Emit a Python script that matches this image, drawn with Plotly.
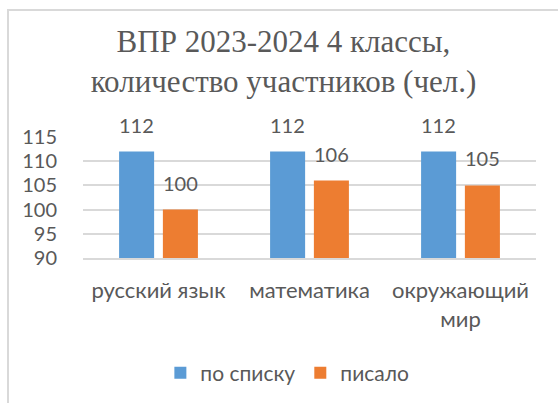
import plotly.graph_objects as go

categories = ["русский язык", "математика", "окружающий<br>мир"]
series_names = ["по списку", "писало"]
po_spisku = [112, 112, 112]
pisalo = [100, 106, 105]
y_ticks = [90, 95, 100, 105, 110, 115]

colors = ["#5B9BD5", "#ED7D31"]
text_color = "#595959"
grid_color = "#D9D9D9"
sans = "Lato, Calibri, Carlito, sans-serif"

W, H = 558, 403
ml, mr, mt, mb = 83, 22, 137, 145
bargap = 0.42

fig = go.Figure()
for name, vals, c in zip(series_names, [po_spisku, pisalo], colors):
    fig.add_trace(go.Bar(x=categories, y=vals, name=name, marker_color=c,
                         marker_line_width=0))

# data labels above bars
offset = (1 - bargap) / 4
ann = []
for k, vals in enumerate([po_spisku, pisalo]):
    for i, v in enumerate(vals):
        ann.append(dict(x=i + (offset if k else -offset), y=v, xref="x", yref="y",
                        text=str(v), showarrow=False, yshift=27, yanchor="middle",
                        font=dict(family=sans, size=20, color=text_color)))

pw = W - ml - mr
ph = H - mt - mb
shapes = [dict(type="rect", xref="paper", yref="paper",
               x0=(8 - ml) / pw, x1=(W + 10 - ml) / pw,
               y0=(H - mb - (H + 10)) / ph, y1=(H - mb - 10) / ph,
               line=dict(color="#D9D9D9", width=2), fillcolor="rgba(0,0,0,0)", layer="below")]

fig.update_layout(
    width=W, height=H,
    margin=dict(l=ml, r=mr, t=mt, b=mb, pad=0),
    paper_bgcolor="white", plot_bgcolor="white",
    barmode="group", bargap=bargap, bargroupgap=0.2,
    title=dict(text="ВПР 2023-2024 4 классы,<br>количество участников (чел.)",
               x=0.508, xref="container", xanchor="center",
               y=1 - 52 / H, yref="container", yanchor="middle",
               font=dict(family="Liberation Serif, Times New Roman, serif", size=31, color=text_color)),
    xaxis=dict(showgrid=False, showline=True, linecolor=grid_color, linewidth=2,
               ticks="outside", ticklen=12, tickcolor="rgba(0,0,0,0)",
               tickfont=dict(family=sans, size=22, color=text_color)),
    yaxis=dict(range=[90, 115], tickvals=y_ticks, showgrid=True, gridcolor=grid_color,
               gridwidth=2, zeroline=False, showline=False,
               ticks="outside", ticklen=21, tickcolor="rgba(0,0,0,0)",
               tickfont=dict(family=sans, size=20, color=text_color)),
    legend=dict(orientation="h", xref="container", yref="container",
                x=0.515, xanchor="center", y=1 - 373 / H, yanchor="middle",
                font=dict(family=sans, size=21, color=text_color),
                itemwidth=30, tracegroupgap=0),
    annotations=ann,
    shapes=shapes,
    showlegend=True,
)
fig.write_html("out.html", config={"displayModeBar": False},
               post_script="document.body.style.margin='0';document.body.style.overflow='hidden';")
